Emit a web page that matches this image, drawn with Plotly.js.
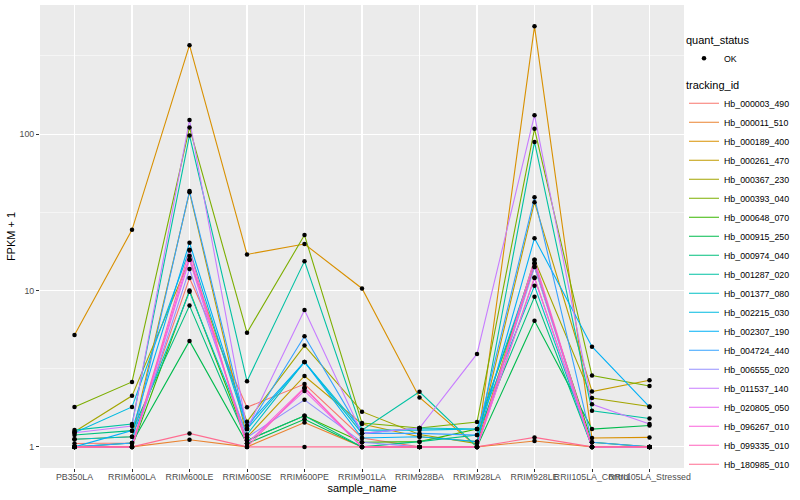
<!DOCTYPE html>
<html>
<head>
<meta charset="utf-8">
<script src="https://cdn.plot.ly/plotly-3.0.1.min.js"></script>
<style>html,body{margin:0;padding:0;background:#fff;}#chart{width:800px;height:500px;}</style>
</head>
<body>
<div id="chart"></div>
<script>
// categories (sample_name)
const samples = ["PB350LA","RRIM600LA","RRIM600LE","RRIM600SE","RRIM600PE","RRIM901LA","RRIM928BA","RRIM928LA","RRIM928LE","RRII105LA_Control","RRII105LA_Stressed"];

// tracking ids and FPKM + 1 values
const trackingIds = ["Hb_000003_490","Hb_000011_510","Hb_000189_400","Hb_000261_470","Hb_000367_230","Hb_000393_040","Hb_000648_070","Hb_000915_250","Hb_000974_040","Hb_001287_020","Hb_001377_080","Hb_002215_030","Hb_002307_190","Hb_004724_440","Hb_006555_020","Hb_011537_140","Hb_020805_050","Hb_096267_010","Hb_099335_010","Hb_180985_010"];

const hb_000003_490 = [1.05, 1.06, 12.0, 1.79, 2.52, 1.14, 1.0, 1.0, 12.1, 1.0, 1.0];
const hb_000011_510 = [1.0, 1.0, 1.11, 1.0, 1.43, 1.0, 1.0, 1.0, 1.09, 1.0, 1.0];
const hb_000189_400 = [5.2, 24.4, 370, 17.0, 19.8, 10.3, 2.07, 1.0, 488, 1.14, 1.15];
const hb_000261_470 = [1.12, 1.16, 42.5, 1.15, 2.84, 1.40, 1.16, 1.08, 36.7, 2.26, 2.67];
const hb_000367_230 = [1.25, 2.12, 15.7, 1.45, 4.44, 1.68, 1.20, 1.05, 15.7, 2.05, 1.81];
const hb_000393_040 = [1.80, 2.60, 110, 5.37, 22.6, 1.42, 1.32, 1.44, 108, 2.86, 2.45];
const hb_000648_070 = [1.0, 1.0, 10.0, 1.10, 1.58, 1.07, 1.08, 1.30, 14.2, 1.07, 1.0];
const hb_000915_250 = [1.0, 1.06, 4.76, 1.05, 1.50, 1.0, 1.0, 1.0, 6.4, 1.30, 1.37];
const hb_000974_040 = [1.19, 1.27, 8.0, 1.10, 1.58, 1.0, 1.08, 1.19, 9.1, 1.0, 1.0];
const hb_001287_020 = [1.28, 1.40, 98, 2.63, 15.4, 1.28, 2.25, 1.0, 89, 1.70, 1.52];
const hb_001377_080 = [1.12, 1.16, 9.8, 1.20, 3.49, 1.22, 1.32, 1.30, 10.7, 1.0, 1.0];
const hb_002215_030 = [1.23, 1.80, 18.2, 1.30, 3.49, 1.28, 1.28, 1.30, 14.9, 1.0, 1.0];
const hb_002307_190 = [1.0, 1.27, 20.2, 1.37, 3.49, 1.14, 1.16, 1.08, 21.6, 4.37, 1.80];
const hb_004724_440 = [1.0, 1.06, 43.2, 1.30, 5.10, 1.22, 1.22, 1.19, 39.4, 1.07, 1.0];
const hb_006555_020 = [1.0, 1.0, 13.7, 1.15, 2.0, 1.07, 1.0, 1.0, 14.1, 1.0, 1.0];
const hb_011537_140 = [1.23, 1.36, 123, 1.30, 7.5, 1.22, 1.32, 3.93, 132, 1.87, 1.40];
const hb_020805_050 = [1.0, 1.0, 15.7, 1.05, 2.28, 1.0, 1.0, 1.0, 12.0, 1.0, 1.0];
const hb_096267_010 = [1.0, 1.0, 16.6, 1.05, 2.40, 1.0, 1.0, 1.0, 15.7, 1.0, 1.0];
const hb_099335_010 = [1.0, 1.0, 18.0, 1.0, 2.37, 1.0, 1.0, 1.0, 14.9, 1.0, 1.0];
const hb_180985_010 = [1.0, 1.0, 1.22, 1.0, 1.0, 1.0, 1.0, 1.0, 1.15, 1.0, 1.0];

const seriesValues = [hb_000003_490, hb_000011_510, hb_000189_400, hb_000261_470, hb_000367_230, hb_000393_040, hb_000648_070, hb_000915_250, hb_000974_040, hb_001287_020, hb_001377_080, hb_002215_030, hb_002307_190, hb_004724_440, hb_006555_020, hb_011537_140, hb_020805_050, hb_096267_010, hb_099335_010, hb_180985_010];

const colors = ["#F8766D","#EA8331","#D89000","#C09B00","#A3A500","#7CAE00","#39B600","#00BB4E","#00BF7D","#00C1A3","#00BFC4","#00BAE0","#00B0F6","#35A2FF","#9590FF","#C77CFF","#E76BF3","#FA62DB","#FF62BC","#FF6C91"];

const yTickVals = [1, 10, 100];
const yTickText = ["1", "10", "100"];
const yMinorVals = [3.1623, 31.623, 316.23];

const traces = [];
trackingIds.forEach((id, i) => {
  traces.push({
    type: "scatter", mode: "lines", name: id,
    x: samples, y: seriesValues[i],
    line: {color: colors[i], width: 1.1},
    legend: "legend", hoverinfo: "skip"
  });
});
// points (quant_status = OK)
const px = [], py = [];
seriesValues.forEach(vals => { vals.forEach((v, j) => { px.push(samples[j]); py.push(v); }); });
traces.push({
  type: "scatter", mode: "markers", name: "OK",
  x: px, y: py,
  marker: {color: "#000", size: 4.5},
  legend: "legend2"
});

const font = "Liberation Sans, Arial, sans-serif";
const layout = {
  width: 800, height: 500,
  margin: {l: 40, r: 116, t: 5, b: 32},
  paper_bgcolor: "#fff", plot_bgcolor: "#EBEBEB",
  font: {family: font, size: 9, color: "#000"},
  xaxis: {
    type: "category", range: [-0.6, 10.6],
    showgrid: true, gridcolor: "#fff", gridwidth: 1.1,
    zeroline: false, showline: false,
    ticks: "outside", ticklen: 3, tickcolor: "#333", tickwidth: 1,
    ticklabelstandoff: -3,
    tickangle: 0, tickfont: {family: font, size: 8.8, color: "#4D4D4D"},
    title: {text: "sample_name", font: {family: font, size: 11, color: "#000"}, standoff: 1},
    automargin: false
  },
  yaxis: {
    type: "log", range: [-0.135, 2.825],
    tickvals: yTickVals, ticktext: yTickText,
    showgrid: true, gridcolor: "#fff", gridwidth: 1.1,
    minor: {tickvals: yMinorVals, showgrid: true, gridcolor: "#fff", gridwidth: 0.5, ticks: ""},
    zeroline: false, showline: false,
    ticks: "outside", ticklen: 3, tickcolor: "#333", tickwidth: 1,
    tickfont: {family: font, size: 8.8, color: "#4D4D4D"},
    title: {text: "FPKM + 1", font: {family: font, size: 11, color: "#000"}, standoff: 1},
    automargin: false
  },
  legend: {
    title: {text: "tracking_id", font: {family: font, size: 11, color: "#000"}},
    x: 1.0, xanchor: "left", y: 0.85, yanchor: "top",
    font: {family: font, size: 8.8, color: "#000"},
    bgcolor: "rgba(0,0,0,0)", tracegroupgap: 0, itemwidth: 30
  },
  legend2: {
    title: {text: "quant_status", font: {family: font, size: 11, color: "#000"}},
    x: 1.0, xanchor: "left", y: 0.947, yanchor: "top",
    font: {family: font, size: 8.8, color: "#000"},
    bgcolor: "rgba(0,0,0,0)", itemwidth: 30
  },
  showlegend: true
};

Plotly.newPlot("chart", traces, layout, {displayModeBar: false, staticPlot: true});
</script>
</body>
</html>
